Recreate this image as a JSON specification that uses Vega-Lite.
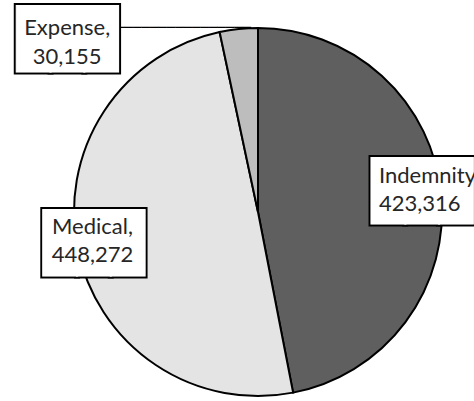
{
  "$schema": "https://vega.github.io/schema/vega-lite/v6.json",
  "autosize": {"type": "none"},
  "width": 432,
  "height": 378,
  "padding": {"left": 42, "top": 23, "right": 0, "bottom": 0},
  "background": "white",
  "view": {"stroke": null},
  "data": {
    "values": [
      {"category": "Indemnity", "value": 423316, "label": "Indemnity,\n423,316"},
      {"category": "Medical", "value": 448272, "label": "Medical,\n448,272"},
      {"category": "Expense", "value": 30155, "label": "Expense,\n30,155"}
    ]
  },
  "transform": [
    {"stack": "value", "groupby": [], "sort": [{"field": "category"}], "as": ["v0", "v1"]},
    {"calculate": "(datum.v0 + datum.v1) / 2", "as": "mid"}
  ],
  "encoding": {
    "theta": {"field": "mid", "type": "quantitative", "stack": null}
  },
  "layer": [
    {
      "mark": {"type": "arc", "outerRadius": 184, "stroke": "black", "strokeWidth": 2},
      "encoding": {
        "theta": {"field": "value", "type": "quantitative", "stack": true, "scale": {"range": [-0.21011, 6.07308]}},
        "color": {
          "field": "category", "type": "nominal", "legend": null,
          "scale": {"domain": ["Indemnity", "Medical", "Expense"], "range": ["#5f5f5f", "#e4e4e4", "#bdbdbd"]}
        }
      }
    },
    {
      "transform": [{"filter": "datum.category === 'Expense'"}],
      "mark": {"type": "text", "radius": 175, "align": "right", "baseline": "alphabetic", "dx": 11.4, "dy": -6, "font": "DejaVu Sans Mono", "fontSize": 14, "color": "black", "text": "────────────────"},
      "encoding": {}
    },
    {
      "transform": [{"filter": "datum.category === 'Expense'"}],
      "mark": {"type": "text", "radius": 175, "align": "center", "baseline": "alphabetic", "dx": -172, "dy": 20, "font": "DejaVu Sans Mono", "fontSize": 56, "color": "black", "stroke": "black", "strokeWidth": 5, "text": "███"},
      "encoding": {}
    },
    {
      "transform": [{"filter": "datum.category === 'Expense'"}],
      "mark": {"type": "text", "radius": 175, "align": "center", "baseline": "alphabetic", "dx": -172, "dy": 20, "font": "DejaVu Sans Mono", "fontSize": 56, "color": "white", "stroke": "white", "strokeWidth": 1, "text": "███"},
      "encoding": {}
    },
    {
      "transform": [{"filter": "datum.category === 'Expense'"}],
      "mark": {"type": "text", "radius": 175, "align": "center", "baseline": "alphabetic", "dx": -172.5, "dy": -3.2, "font": "Lato", "fontSize": 22, "lineBreak": "\n", "lineHeight": 29, "color": "#262626"},
      "encoding": {"text": {"field": "label"}}
    },
    {
      "transform": [{"filter": "datum.category === 'Indemnity'"}],
      "mark": {"type": "text", "radius": 120, "align": "center", "baseline": "alphabetic", "dx": 45, "dy": 9.5, "font": "DejaVu Sans Mono", "fontSize": 56, "color": "black", "stroke": "black", "strokeWidth": 5, "text": "███"},
      "encoding": {}
    },
    {
      "transform": [{"filter": "datum.category === 'Indemnity'"}],
      "mark": {"type": "text", "radius": 120, "align": "center", "baseline": "alphabetic", "dx": 45, "dy": 9.5, "font": "DejaVu Sans Mono", "fontSize": 56, "color": "white", "stroke": "white", "strokeWidth": 1, "text": "███"},
      "encoding": {}
    },
    {
      "transform": [{"filter": "datum.category === 'Indemnity'"}],
      "mark": {"type": "text", "radius": 120, "align": "left", "baseline": "alphabetic", "dx": 1.5, "dy": -17.8, "font": "Lato", "fontSize": 22, "lineBreak": "\n", "lineHeight": 28, "color": "#262626"},
      "encoding": {"text": {"field": "label"}}
    },
    {
      "transform": [{"filter": "datum.category === 'Medical'"}],
      "mark": {"type": "text", "radius": 170, "align": "center", "baseline": "alphabetic", "dx": 2.6, "dy": 15.6, "font": "DejaVu Sans Mono", "fontSize": 56, "color": "black", "stroke": "black", "strokeWidth": 5, "text": "███"},
      "encoding": {}
    },
    {
      "transform": [{"filter": "datum.category === 'Medical'"}],
      "mark": {"type": "text", "radius": 170, "align": "center", "baseline": "alphabetic", "dx": 2.6, "dy": 15.6, "font": "DejaVu Sans Mono", "fontSize": 56, "color": "white", "stroke": "white", "strokeWidth": 1, "text": "███"},
      "encoding": {}
    },
    {
      "transform": [{"filter": "datum.category === 'Medical'"}],
      "mark": {"type": "text", "radius": 170, "align": "center", "baseline": "alphabetic", "dx": 1, "dy": -12, "font": "Lato", "fontSize": 22, "lineBreak": "\n", "lineHeight": 28, "color": "#262626"},
      "encoding": {"text": {"field": "label"}}
    }
  ]
}
